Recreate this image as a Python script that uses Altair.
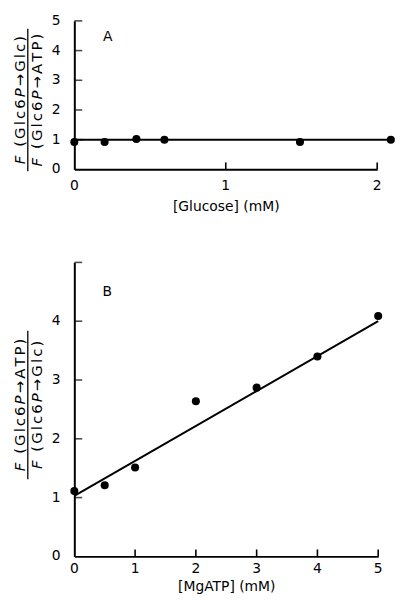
import altair as alt
import pandas as pd

# ---------------- data ----------------
glc_x = [0.0, 0.20, 0.41, 0.595, 1.49, 2.09]
glc_y = [0.92, 0.92, 1.02, 1.00, 0.92, 1.00]
glc_fit_x = [0.0, 2.1]
glc_fit_y = [1.0, 1.0]

atp_x = [0.0, 0.5, 1.0, 2.0, 3.0, 4.0, 5.0]
atp_y = [1.11, 1.21, 1.51, 2.64, 2.87, 3.40, 4.09]
atp_fit_x = [0.0, 5.0]
atp_fit_y = [1.03, 4.00]

a_xticks = [0, 1, 2]
a_yticks = [0, 1, 2, 3, 4, 5]
b_xticks = [0, 1, 2, 3, 4, 5]
b_yticks = [0, 1, 2, 3, 4]

a_xtitle = "[Glucose] (mM)"
b_xtitle = "[MgATP] (mM)"
panel_a_label = ["A"]
panel_b_label = ["B"]

# fraction titles: (segment, italic?)
num_a = [("F", True), (" (Glc6", False), ("P", True), ("→Glc)", False)]
den_a = [("F", True), (" (Glc6", False), ("P", True), ("→ATP)", False)]
num_b = den_a
den_b = num_a

FONT = "DejaVu Sans"
TSIZE = 15
LSP = 2.1  # extra letter spacing, px
# DejaVu Sans advance widths (em)
ADV = {"F": .575, " ": .318, "(": .39, ")": .39, "G": .775, "l": .278, "c": .55,
       "6": .636, "P": .603, "→": .838, "A": .684, "T": .611}


def chars(segs):
    out = []
    for s, it in segs:
        for ch in s:
            out.append((ch, it))
    return out


def frac_layers(num, den, cy, L):
    layers = []
    x_num, x_line, x_den = -55, -47, -38
    for segs, xx in ((num, x_num), (den, x_den)):
        cs = chars(segs)
        total = sum(ADV.get(c, 0.6) * TSIZE for c, _ in cs) + LSP * (len(cs) - 1)
        start = cy + total / 2
        off = 0
        for c, it in cs:
            if c != " ":
                layers.append(
                    alt.Chart(pd.DataFrame({"t": [c]})).mark_text(
                        angle=270, align="left", baseline="middle", font=FONT,
                        fontSize=TSIZE, fontStyle="italic" if it else "normal",
                        color="black"
                    ).encode(x=alt.value(xx), y=alt.value(start - off), text="t:N")
                )
            off += ADV.get(c, 0.6) * TSIZE + LSP
    layers.append(
        alt.Chart(pd.DataFrame({"a": [0]})).mark_rule(color="black", strokeWidth=1.3)
        .encode(x=alt.value(x_line), y=alt.value(cy - L / 2), y2=alt.value(cy + L / 2))
    )
    return layers


def panel(px, py, fx, fy, xdom, xticks, yticks, xtitle, label, lx, ly,
          W, H, num, den, cy, L, lab_pad, title_pad):
    xs = alt.Scale(domain=xdom, nice=False)
    ys = alt.Scale(domain=[0, 5], nice=False)
    xaxis = alt.Axis(values=xticks, title=xtitle, labels=False, ticks=False,
                     grid=False, titlePadding=title_pad)
    yaxis = alt.Axis(values=yticks, title=None, labels=False, ticks=False, grid=False)
    pts = pd.DataFrame({"x": px, "y": py})
    fit = pd.DataFrame({"x": fx, "y": fy})
    line = alt.Chart(fit).mark_line(color="black", strokeWidth=2).encode(
        x=alt.X("x:Q", scale=xs, axis=xaxis, title=xtitle),
        y=alt.Y("y:Q", scale=ys, axis=yaxis, title=None),
    )
    dots = alt.Chart(pts).mark_circle(color="black", opacity=1, size=66).encode(
        x=alt.X("x:Q", title=xtitle), y=alt.Y("y:Q", title=None))
    # inward tick marks
    xt = pd.DataFrame({"x": [v for v in xticks if v != 0]})
    ylist = [v for v in yticks if v != 0] + ([5] if 5 not in yticks else [])
    yt = pd.DataFrame({"y": ylist})
    xtick_marks = alt.Chart(xt).mark_rule(color="black", strokeWidth=1.6).encode(
        x=alt.X("x:Q", title=xtitle), y=alt.value(H), y2=alt.value(H - 7))
    ytick_marks = alt.Chart(yt).mark_tick(
        color="black", orient="horizontal", size=8, thickness=1.6).encode(
        y=alt.Y("y:Q", title=None), x=alt.value(4))
    # tick labels
    xl = pd.DataFrame({"x": xticks, "t": [str(v) for v in xticks]})
    yl = pd.DataFrame({"y": yticks, "t": [str(v) for v in yticks]})
    xlabels = alt.Chart(xl).mark_text(
        font=FONT, fontSize=14, color="black", baseline="top", align="center").encode(
        x=alt.X("x:Q", title=xtitle), y=alt.value(H + lab_pad), text="t:N")
    ylabels = alt.Chart(yl).mark_text(
        font=FONT, fontSize=14, color="black", baseline="middle", align="right").encode(
        y=alt.Y("y:Q", title=None), x=alt.value(-14), text="t:N")
    lab = alt.Chart(pd.DataFrame({"t": label, "x": [lx], "y": [ly]})).mark_text(
        font=FONT, fontSize=14, color="black").encode(
        x=alt.X("x:Q", title=xtitle), y=alt.Y("y:Q", title=None), text="t:N")
    layers = [line, dots, xtick_marks, ytick_marks, xlabels, ylabels, lab] + \
        frac_layers(num, den, cy, L)
    return alt.layer(*layers).properties(width=W, height=H)


pa = panel(glc_x, glc_y, glc_fit_x, glc_fit_y, [0, 2], a_xticks, a_yticks, a_xtitle,
           panel_a_label, 0.22, 4.46, 306, 150, num_a, den_a, 80, 144, 10, 31)
pb = panel(atp_x, atp_y, atp_fit_x, atp_fit_y, [0, 5], b_xticks, b_yticks, b_xtitle,
           panel_b_label, 0.54, 4.5, 307, 297, num_b, den_b, 144, 150, 6, 23)

chart = alt.vconcat(pa, pb, spacing=48).properties(
    padding={"left": 4, "top": 3, "right": 0, "bottom": 0}
).configure_view(stroke=None).configure_axis(
    domainColor="black", domainWidth=2, titleFont=FONT, titleFontSize=14,
    titleColor="black", titleFontWeight="normal", ticks=False, grid=False
)

chart.save("out.html", embed_options={"renderer": "svg", "actions": False})
